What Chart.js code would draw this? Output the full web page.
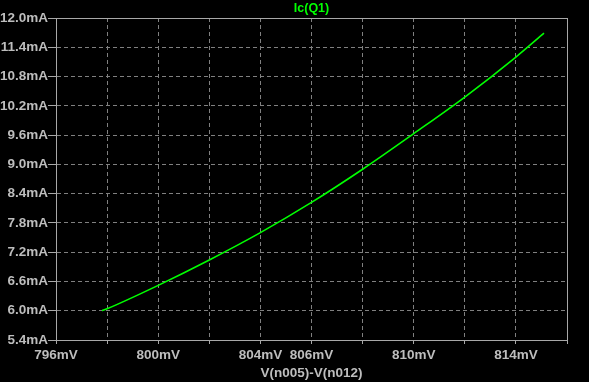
<!DOCTYPE html>
<html>
<head>
<meta charset="utf-8">
<script src="https://cdn.jsdelivr.net/npm/chart.js@4.4.1/dist/chart.umd.min.js"></script>
<style>
  html, body { margin: 0; padding: 0; background: #000; }
  canvas { display: block; }
</style>
</head>
<body>
<canvas id="plot" width="589" height="382"></canvas>
<script>
// sweep voltage (mV) and collector current (mA)
const vbe = [797.8, 798, 800, 802, 804, 806, 808, 810, 812, 814, 815.1];
const ic = [6.00, 6.04, 6.52, 7.04, 7.60, 8.22, 8.90, 9.63, 10.38, 11.20, 11.69];

const xTicks = [796, 798, 800, 802, 804, 806, 808, 810, 812, 814, 816];
const xLabeled = [796, 800, 804, 806, 810, 814];
const yTicks = [5.4, 6.0, 6.6, 7.2, 7.8, 8.4, 9.0, 9.6, 10.2, 10.8, 11.4, 12.0];

const gridColor = '#808080';
const frameColor = '#a8a8a8';
const textColor = '#bdbdbd';
const font = { family: 'Liberation Sans', size: 13.5, weight: 'bold' };

function edgeDash(ctx) {
  const n = ctx.scale.ticks.length;
  return (ctx.index === 0 || ctx.index === n - 1) ? [] : [4, 3];
}
function edgeColor(ctx) {
  const n = ctx.scale.ticks.length;
  return (ctx.index === 0 || ctx.index === n - 1) ? frameColor : gridColor;
}

new Chart(document.getElementById('plot'), {
  type: 'line',
  data: {
    datasets: [{
      label: 'Ic(Q1)',
      data: vbe.map((v, i) => ({ x: v, y: ic[i] })),
      borderColor: '#00ff00',
      borderWidth: 1.6,
      pointRadius: 0,
      cubicInterpolationMode: 'monotone'
    }]
  },
  options: {
    responsive: false,
    animation: false,
    layout: { padding: { left: 0, right: 22, top: 0, bottom: 0 } },
    plugins: {
      legend: { display: false },
      tooltip: { enabled: false },
      title: {
        display: true,
        text: 'Ic(Q1)',
        color: '#00ff00',
        fullSize: false,
        font: { family: 'Liberation Sans', size: 12.5, weight: 'bold' },
        padding: { top: 1, bottom: 2 }
      }
    },
    scales: {
      x: {
        type: 'linear',
        min: 796,
        max: 816,
        afterBuildTicks: axis => { axis.ticks = xTicks.map(v => ({ value: v })); },
        afterFit: axis => { axis.height = 42; },
        ticks: {
          color: textColor,
          font: font,
          padding: 3,
          maxRotation: 0,
          autoSkip: false,
          callback: v => xLabeled.includes(v) ? v + 'mV' : ''
        },
        grid: {
          color: edgeColor,
          tickColor: frameColor,
          tickLength: 4,
          lineWidth: 1
        },
        border: { color: frameColor, width: 1, dash: edgeDash },
        title: {
          display: true,
          text: 'V(n005)-V(n012)',
          color: textColor,
          font: font,
          padding: { top: 0, bottom: 1 }
        }
      },
      y: {
        min: 5.4,
        max: 12.0,
        afterBuildTicks: axis => { axis.ticks = yTicks.map(v => ({ value: v })); },
        afterFit: axis => { axis.width = 56; },
        ticks: {
          color: textColor,
          font: font,
          padding: 0,
          autoSkip: false,
          callback: v => v.toFixed(1) + 'mA'
        },
        grid: {
          color: edgeColor,
          tickColor: frameColor,
          tickLength: 8,
          lineWidth: 1
        },
        border: { color: frameColor, width: 1, dash: edgeDash }
      }
    }
  }
});
</script>
</body>
</html>
